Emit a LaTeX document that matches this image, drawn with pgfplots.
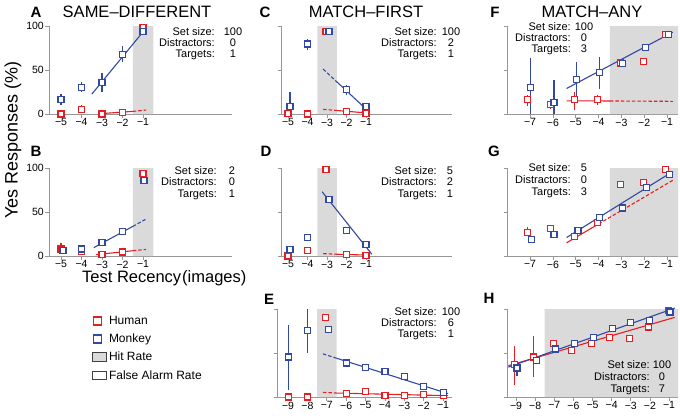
\documentclass[border=0pt]{standalone}
\usepackage{pgfplots}
\pgfplotsset{compat=1.18}
\usepackage{fontspec}
\setmainfont{Liberation Sans}
\definecolor{hred}{RGB}{230,30,35}
\definecolor{mblue}{RGB}{50,72,165}
\definecolor{shade}{RGB}{218,218,218}
\definecolor{axgray}{RGB}{150,150,150}
\newcommand\fs[1]{\fontsize{#1}{#1}\selectfont}
\pgfplotsset{
  panel/.style={scale only axis, anchor=south west, clip=false,
    height=88pt, ymin=0, ymax=100, ytick={0,50,100}, yticklabels={},
    axis x line=bottom, axis y line=left,
    axis line style={-, axgray, line width=0.7pt},
    tick style={axgray, line width=0.7pt},
    tick align=outside, major tick length=3.5pt,
    tick label style={font=\fs{10.5}},
    xticklabel style={inner sep=1pt},
    yticklabel style={inner sep=1.5pt},
  },
  pab/.style={panel, width=183pt, xmin=-5.585, xmax=3.34, xtick={-5,-4,-3,-2,-1}, xticklabels={−5,−4,−3,−2,−1}},
  pcd/.style={panel, width=171pt, xmin=-5.36, xmax=3.41, xtick={-5,-4,-3,-2,-1}, xticklabels={−5,−4,−3,−2,−1}},
  pe/.style={panel, width=175pt, xmin=-9.57, xmax=-0.54, xtick={-9,-8,-7,-6,-5,-4,-3,-2,-1}, xticklabels={−9,−8,−7,−6,−5,−4,−3,−2,−1}},
  pfg/.style={panel, width=171pt, xmin=-8.01, xmax=-0.52, xtick={-7,-6,-5,-4,-3,-2,-1}, xticklabels={−7,−6,−5,−4,−3,−2,−1}},
  ph/.style={panel, width=171pt, xmin=-9.47, xmax=-0.53, xtick={-9,-8,-7,-6,-5,-4,-3,-2,-1}, xticklabels={−9,−8,−7,−6,−5,−4,−3,−2,−1}},
  hum/.style={draw=hred, only marks, mark=square*, mark size=3pt, mark options={draw=hred, fill=white, line width=1.1pt, solid}},
  mon/.style={draw=mblue, only marks, mark=square*, mark size=3pt, mark options={draw=mblue, fill=white, line width=1.1pt, solid}},
  herr/.style={hred, only marks, mark=none, forget plot,
    error bars/y dir=both, error bars/y explicit, error bars/error mark=none,
    error bars/error bar style={draw=hred, line width=1.1pt, solid}},
  merr/.style={mblue, only marks, mark=none, forget plot,
    error bars/y dir=both, error bars/y explicit, error bars/error mark=none,
    error bars/error bar style={draw=mblue, line width=1.1pt, solid}},
  fitl/.style={line width=1.1pt, mark=none},
  fitd/.style={line width=1.1pt, mark=none, dash pattern=on 3.5pt off 2pt},
  hitr/.style={fill=shade, draw=none, forget plot},
}
\newcommand\info[8]{%
  \node[anchor=base east, inner sep=0pt, font=\fs{11}] at (#1pt,-#3pt) {Set size:};
  \node[anchor=base east, inner sep=0pt, font=\fs{11}] at (#1pt,-#4pt) {Distractors:};
  \node[anchor=base east, inner sep=0pt, font=\fs{11}] at (#1pt,-#5pt) {Targets:};
  \node[anchor=base, inner sep=0pt, font=\fs{11}] at (#2pt,-#3pt) {#6};
  \node[anchor=base, inner sep=0pt, font=\fs{11}] at (#2pt,-#4pt) {#7};
  \node[anchor=base, inner sep=0pt, font=\fs{11}] at (#2pt,-#5pt) {#8};
}
\begin{document}
\begin{tikzpicture}
\path[use as bounding box] (0,0) rectangle (680pt,-415pt);
% ---------- A
\begin{axis}[pab, at={(49pt,-114pt)}, yticklabels={0,50,100}]
\addplot[hitr] coordinates {(-1.5,0)(-1.5,100)(-0.5,100)(-0.5,0)} \closedcycle;
\addplot[hred, fitl] coordinates {(-3,0.5)(-1.5,3)};
\addplot[hred, fitd] coordinates {(-1.5,3)(-0.85,4.5)};
\addplot[mblue, fitl] coordinates {(-3.5,22.5)(-0.87,97)};
\addplot[herr] table[x=x,y=y,y error plus=ep,y error minus=em] {
x y ep em
-4 5 5 4
-2 2 3 2
};
\addplot[merr] table[x=x,y=y,y error plus=ep,y error minus=em] {
x y ep em
-5 16 7 6
-4 30 6 5
-3 36 11 11
-2 68 9 9
};
\addplot[hum] coordinates {(-5,0)(-4,5)(-3,0)(-2,2)(-1,98)};
\addplot[mon] coordinates {(-5,16)(-4,30)(-3,36)(-2,68)(-1,94)};
\end{axis}
% ---------- B
\begin{axis}[pab, at={(49pt,-256pt)}, yticklabels={0,50,100}]
\addplot[hitr] coordinates {(-1.5,0)(-1.5,100)(-0.5,100)(-0.5,0)} \closedcycle;
\addplot[hred, fitl] coordinates {(-3.3,1.5)(-1.5,6)};
\addplot[hred, fitd] coordinates {(-1.5,6)(-0.85,7.5)};
\addplot[mblue, fitl] coordinates {(-3.4,9.5)(-1.5,33.6)};
\addplot[mblue, fitd] coordinates {(-1.5,33.6)(-0.85,42)};
\addplot[herr] table[x=x,y=y,y error plus=ep,y error minus=em] {
x y ep em
-5 8 7 6
-4 5 5 4
};
\addplot[merr] table[x=x,y=y,y error plus=ep,y error minus=em] {
x y ep em
-4 8 3 3
};
\addplot[hum] coordinates {(-5,8)(-4,5)(-3,2)(-2,4.5)(-1,94)};
\addplot[mon] coordinates {(-4.9,6.4)(-4,8)(-3,15)(-2,28)(-0.95,86)};
\end{axis}
% ---------- C
\begin{axis}[pcd, at={(281pt,-114pt)}]
\addplot[hitr] coordinates {(-3.5,0)(-3.5,100)(-2.5,100)(-2.5,0)} \closedcycle;
\addplot[hred, fitd] coordinates {(-3.2,5.3)(-2.5,4)};
\addplot[hred, fitl] coordinates {(-2.5,4)(-0.85,1)};
\addplot[mblue, fitd] coordinates {(-3.2,51)(-2.5,36.6)};
\addplot[mblue, fitl] coordinates {(-2.5,36.6)(-0.85,2.6)};
\addplot[merr] table[x=x,y=y,y error plus=ep,y error minus=em] {
x y ep em
-4.9 8.3 17 5
-4 79.5 5.5 7
-2 28 5 6
};
\addplot[hum] coordinates {(-5,1)(-4,0)(-3.05,94)(-2,3)(-1,1)};
\addplot[mon] coordinates {(-4.9,8.3)(-4,79.5)(-2.9,94)(-2,28)(-1,8.3)};
\end{axis}
% ---------- D
\begin{axis}[pcd, at={(281pt,-256pt)}]
\addplot[hitr] coordinates {(-3.5,0)(-3.5,100)(-2.5,100)(-2.5,0)} \closedcycle;
\addplot[hred, fitd] coordinates {(-3.2,2.7)(-2.5,2)};
\addplot[hred, fitl] coordinates {(-2.5,2)(-0.8,1)};
\addplot[mblue, fitl] coordinates {(-3.25,73)(-0.7,2)};
\addplot[merr] table[x=x,y=y,y error plus=ep,y error minus=em] {
x y ep em
-4 21 3 3
-2.9 64 3 3
};
\addplot[hum] coordinates {(-5,0)(-4,6.4)(-3.05,98)(-2,1.5)(-1,1)};
\addplot[mon] coordinates {(-4.9,7)(-4,21)(-2.9,64)(-2,29)(-1,13)};
\end{axis}
% ---------- E
\begin{axis}[pe, at={(277pt,-397pt)}]
\addplot[hitr] coordinates {(-7.5,0)(-7.5,100)(-6.5,100)(-6.5,0)} \closedcycle;
\addplot[hred, fitd] coordinates {(-7.2,5.3)(-6.5,4.5)};
\addplot[hred, fitl] coordinates {(-6.5,4.5)(-0.75,1.5)};
\addplot[mblue, fitd] coordinates {(-7.2,49)(-6.5,44.1)};
\addplot[mblue, fitl] coordinates {(-6.5,44.1)(-0.75,3.9)};
\addplot[merr] table[x=x,y=y,y error plus=ep,y error minus=em] {
x y ep em
-9 45.5 36.5 37.5
-8 76 24 26
};
\addplot[hum] coordinates {(-9,0)(-8,0)(-7.05,90.5)(-6,4)(-5,6)(-4,2)(-3,1.5)(-2,2.6)(-1,1.5)};
\addplot[mon] coordinates {(-9,45.5)(-8,76)(-6.9,77)(-6,38.6)(-5,34)(-4,29)(-3,23)(-2,12)(-1,5)};
\end{axis}
% ---------- F
\begin{axis}[pfg, at={(507pt,-114pt)}]
\addplot[hitr] coordinates {(-3.5,0)(-3.5,100)(-0.52,100)(-0.52,0)} \closedcycle;
\addplot[hred, fitl] coordinates {(-5.4,15)(-3.5,14.8)};
\addplot[hred, fitd] coordinates {(-3.5,14.8)(-0.75,14.4)};
\addplot[mblue, fitl] coordinates {(-5.4,29)(-0.75,93)};
\addplot[herr] table[x=x,y=y,y error plus=ep,y error minus=em] {
x y ep em
-7.1 16.7 5 8
-6.1 11 5 5
-5.05 16 9.5 11.5
-4.05 16 5.5 5.5
};
\addplot[merr] table[x=x,y=y,y error plus=ep,y error minus=em] {
x y ep em
-7 30 34 30
-5.95 13 26 13
-4.95 39 20.5 23
-3.95 47 18 19
-2.95 57 2 2
};
\addplot[hum] coordinates {(-7.1,16.7)(-6.1,11)(-5.05,16)(-4.05,16)(-3.05,58)(-2.05,59.5)(-1.05,90.5)};
\addplot[mon] coordinates {(-7,30)(-5.95,13)(-4.95,39)(-3.95,47)(-2.95,57)(-1.95,76)(-0.95,90.5)};
\end{axis}
% ---------- G
\begin{axis}[pfg, at={(507pt,-256pt)}]
\addplot[hitr] coordinates {(-3.5,0)(-3.5,100)(-0.52,100)(-0.52,0)} \closedcycle;
\addplot[hred, fitl] coordinates {(-5.4,15)(-4,36.4)};
\addplot[hred, fitd] coordinates {(-4,36.4)(-0.75,86)};
\addplot[mblue, fitl] coordinates {(-5.4,21)(-0.75,96)};
\addplot[herr] table[x=x,y=y,y error plus=ep,y error minus=em] {
x y ep em
-7.1 26.5 6 4
};
\addplot[hum] coordinates {(-7.1,26.5)(-6.1,31)(-5.05,22)(-4.05,38)(-3.05,81.4)(-2.05,84)(-1.05,98)};
\addplot[mon] coordinates {(-6.95,18.6)(-5.95,24.6)(-4.9,29)(-3.95,43.5)(-2.95,54.5)(-1.9,77.7)(-0.9,93)};
\end{axis}
% ---------- H
\begin{axis}[ph, at={(507pt,-397pt)}]
\addplot[hitr] coordinates {(-7.5,0)(-7.5,100)(-0.53,100)(-0.53,0)} \closedcycle;
\addplot[hred, fitl] coordinates {(-9.4,35.6)(-0.7,90.5)};
\addplot[mblue, fitl] coordinates {(-9.4,34)(-0.7,101)};
\addplot[herr] table[x=x,y=y,y error plus=ep,y error minus=em] {
x y ep em
-9.1 36.7 21 23
-8.1 45.5 23.5 22.5
};
\addplot[merr] table[x=x,y=y,y error plus=ep,y error minus=em] {
x y ep em
-8.95 33 8 9
};
\addplot[hum] coordinates {(-9.1,36.7)(-8.1,45.5)(-7.05,60.6)(-6.1,52.6)(-5.05,61)(-4.1,68)(-3.05,66)(-2.05,79.5)(-1.05,98)};
\addplot[mon] coordinates {(-8.95,33)(-7.95,41.7)(-6.95,54.5)(-5.95,60.6)(-4.95,68)(-3.95,77.7)(-3,85)(-2,87)(-0.95,96.6)};
\end{axis}
% ---------- legend
\begin{axis}[hide axis, scale only axis, width=10pt, height=10pt, at={(92pt,-314pt)}, anchor=north west,
  xmin=0, xmax=1, ymin=0, ymax=1, legend cell align=left,
  legend style={at={(0,1)}, anchor=north west, draw=none, fill=none, inner sep=0pt, row sep=4pt, font=\fs{12}}]
\addlegendimage{legend image code/.code={\draw[hred, line width=1.3pt, fill=white] (0.6pt,-4pt) rectangle (8.6pt,4pt);}}
\addlegendentry{Human}
\addlegendimage{legend image code/.code={\draw[mblue, line width=1.3pt, fill=white] (0.6pt,-4pt) rectangle (8.6pt,4pt);}}
\addlegendentry{Monkey}
\addlegendimage{legend image code/.code={\draw[black!75, line width=0.8pt, fill=shade] (0pt,-4.5pt) rectangle (14pt,4.5pt);}}
\addlegendentry{Hit Rate}
\addlegendimage{legend image code/.code={\draw[black!75, line width=0.8pt, fill=white] (0pt,-4pt) rectangle (14pt,4pt);}}
\addlegendentry{False Alarm Rate}
\end{axis}
% ---------- texts
\info{215}{233}{35}{46}{57}{100}{0}{1}
\info{217}{232}{174}{185}{197}{2}{0}{1}
\info{437}{451}{35}{46}{57}{100}{2}{1}
\info{437}{450}{174}{185}{197}{5}{2}{1}
\info{437}{451}{315}{326}{337}{100}{6}{1}
\info{571}{584}{30}{41}{52}{100}{0}{3}
\info{571}{584}{171}{183}{195}{5}{0}{3}
\info{650}{662}{368}{380}{392}{100}{0}{7}
\node[font=\fs{15}\bfseries] at (36pt,-12pt) {A};
\node[font=\fs{16.5}] at (137pt,-12pt) {SAME–DIFFERENT};
\node[font=\fs{15}\bfseries] at (265pt,-12pt) {C};
\node[font=\fs{16.5}] at (366pt,-12pt) {MATCH–FIRST};
\node[font=\fs{15}\bfseries] at (495pt,-12pt) {F};
\node[font=\fs{16.5}] at (592pt,-12pt) {MATCH–ANY};
\node[font=\fs{15}\bfseries] at (36pt,-151pt) {B};
\node[font=\fs{15}\bfseries] at (266pt,-151pt) {D};
\node[font=\fs{15}\bfseries] at (269pt,-299pt) {E};
\node[font=\fs{15}\bfseries] at (494pt,-151pt) {G};
\node[font=\fs{15}\bfseries] at (489pt,-298pt) {H};
\node[font=\fs{18}, rotate=90] at (13pt,-140pt) {Yes Responses (\%)};
\node[font=\fs{16.5}, anchor=west, inner sep=0pt] at (82pt,-278pt) {Test Recency\kern1pt(images)};
\end{tikzpicture}
\end{document}
